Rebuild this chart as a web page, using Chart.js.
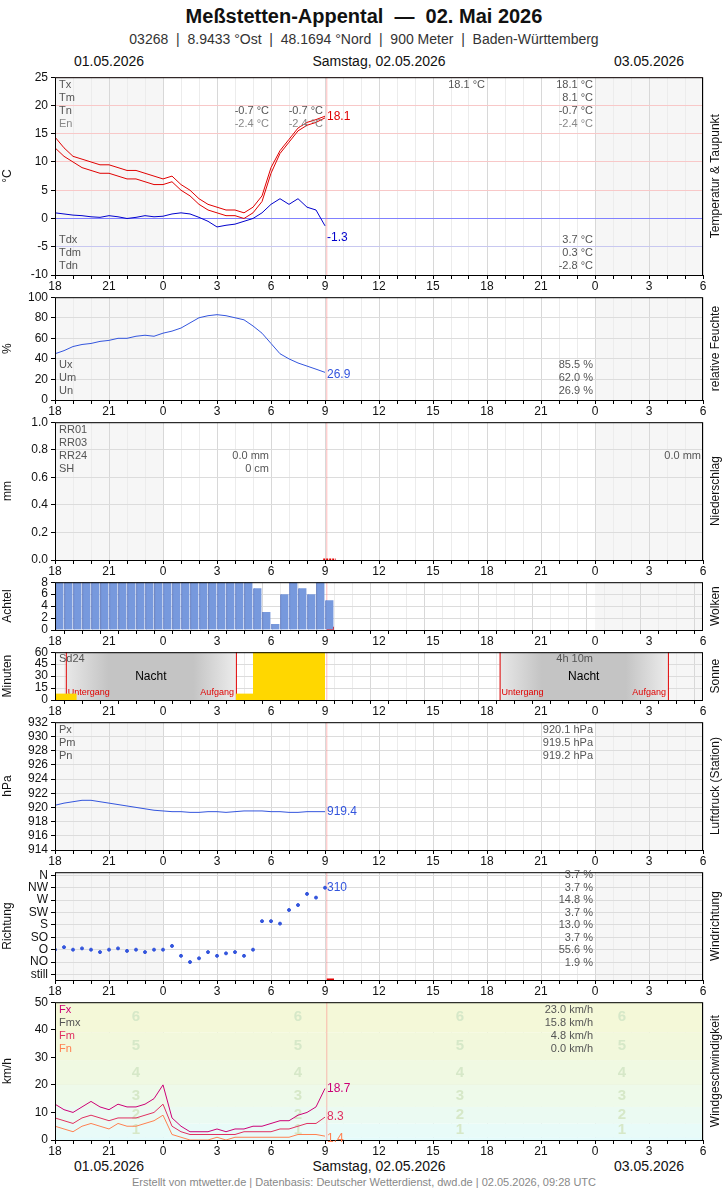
<!DOCTYPE html>
<html><head><meta charset="utf-8">
<script src="https://cdn.jsdelivr.net/npm/chart.js@4"></script>
<style>
body{margin:0;width:728px;height:1190px;background:#fff;font-family:"Liberation Sans",Arial,sans-serif;position:relative;overflow:hidden}
canvas{position:absolute;left:0}
.t{position:absolute;white-space:nowrap;color:#111}
</style></head><body>
<div class="t" style="left:0;width:728px;text-align:center;top:5px;font-size:20px;font-weight:bold">Meßstetten-Appental&nbsp; — &nbsp;02. Mai 2026</div>
<div class="t" style="left:0;width:728px;text-align:center;top:31px;font-size:14px;color:#333">03268&nbsp; | &nbsp;8.9433 °Ost&nbsp; | &nbsp;48.1694 °Nord&nbsp; | &nbsp;900 Meter&nbsp; | &nbsp;Baden-Württemberg</div>
<div class="t" style="left:74px;top:53px;font-size:14px">01.05.2026</div>
<div class="t" style="left:0;width:758px;text-align:center;top:53px;font-size:14px">Samstag, 02.05.2026</div>
<div class="t" style="left:614px;top:53px;font-size:14px">03.05.2026</div>
<div class="t" style="left:74px;top:1158px;font-size:14px">01.05.2026</div>
<div class="t" style="left:0;width:758px;text-align:center;top:1158px;font-size:14px">Samstag, 02.05.2026</div>
<div class="t" style="left:614px;top:1158px;font-size:14px">03.05.2026</div>
<div class="t" style="left:0;width:728px;text-align:center;top:1176px;font-size:11px;color:#888">Erstellt von mtwetter.de | Datenbasis: Deutscher Wetterdienst, dwd.de | 02.05.2026, 09:28 UTC</div>
<script>
const FONT='"Liberation Sans",Arial,sans-serif';
Chart.defaults.font.family=FONT;
// hours since 01.05. 18:00, 30-min steps
const hours = Array.from({length:31},(_, i)=>i*0.5);
const tempA = [14.4,12.5,11,10.5,10,9.5,9.5,9,8.5,8.5,8,7.5,7,7.5,6,5,3.5,2.5,2,1.5,1.5,1,2,4,9,12,14,16,17,17.5,18.1];
const tempB = [12.5,11,10,9,8.5,8,8,7.5,7,7,6.5,6,6,6.5,5,4,2.5,1.5,1,0.5,0.5,0,1,3,8,11.5,13.5,15.5,16.5,17,17.8];
const dew = [1,0.8,0.6,0.5,0.3,0.2,0.5,0.3,0,0.2,0.5,0.3,0.4,0.8,1,0.8,0.2,-0.5,-1.5,-1.2,-1,-0.5,0,1,2.5,3.5,2.5,3.5,2,1.5,-1.3];
const humidity = [45,48,52,54,55,57,58,60,60,62,63,62,65,67,70,75,80,82,83,82,80,78,72,65,55,45,40,36,33,30,26.9];
const clouds = [8,8,8,8,8,8,8,8,8,8,8,8,8,8,8,8,8,8,8,8,8,8,7,3,1,6,8,7,6,8,5];
const pressure = [920.3,920.6,920.8,921,921,920.8,920.6,920.4,920.2,920,919.8,919.6,919.5,919.4,919.4,919.3,919.3,919.4,919.4,919.3,919.4,919.5,919.5,919.5,919.4,919.4,919.3,919.3,919.4,919.4,919.4];
const windDir = [2,2.2,2,2.1,2,1.8,2,2.1,1.9,2,1.8,2,2,2.3,1.5,1,1.3,1.8,1.5,1.7,1.8,1.5,2,4.3,4.3,4.1,5.2,5.6,6.5,6.2,7];
const dirLabels = ['still','NO','O','SO','S','SW','W','NW','N'];
const fx = [13,11,10,12,14,12,11,13,12,12,13,15,20,8,5,3,3,3,4,3,4,4,5,5,6,7,7,9,10,12,18.7];
const fm = [8,7,6,8,9,8,7,8,8,8,9,10,13,5,3,2,2,2,2,2,2,3,3,3,3,4,4,5,6,6,8.3];
const fn = [5,4,3,5,6,5,4,6,5,5,6,7,9,2,1,0,0,0,1,0,1,1,1,1,1,1,1,2,2,2,1.4];
const sunBars = [[0,1.2,8],[10.05,11,8],[11,15,60]];
const nights = [[0.6,10.05],[24.7,34.05]];
const nowH = 15.1;

const pts = a => a.map((v,i)=>({x:hours[i],y:v}));
const W=728;
function panel(o){
  const c=document.createElement('canvas');
  const top=o.top-8, h=(o.bottom-o.top)+8+20;
  c.width=W;c.height=h;c.style.top=top+'px';c.style.width=W+'px';c.style.height=h+'px';
  document.body.appendChild(c);
  const overlay={id:'ov',
    beforeDatasetsDraw(ch){const g=ch.ctx,a=ch.chartArea,x=ch.scales.x,y=ch.scales.y;g.save();
      if(o.bg)o.bg(g,a,x,y);
      g.strokeStyle='rgba(255,120,120,0.5)';g.lineWidth=1;const nx=x.getPixelForValue(nowH);g.beginPath();g.moveTo(nx,a.top);g.lineTo(nx,a.bottom);g.stroke();
      g.restore();},
    beforeDraw(ch){const g=ch.ctx,a=ch.chartArea;g.save();
      g.fillStyle='#f6f6f6';g.fillRect(a.left,a.top,a.right-a.left,a.bottom-a.top);
      const x=ch.scales.x;g.fillStyle='#fff';const l=x.getPixelForValue(6),r=x.getPixelForValue(30);g.fillRect(l,a.top,r-l,a.bottom-a.top);
      g.restore();},
    afterDraw(ch){const g=ch.ctx,a=ch.chartArea,x=ch.scales.x,y=ch.scales.y;g.save();
      g.strokeStyle='#000';g.lineWidth=1;g.strokeRect(a.left+0.5,a.top+0.5,a.right-a.left-1,a.bottom-a.top);
      g.font='11px '+FONT;
      (o.texts||[]).forEach(t=>{g.fillStyle=t.c||'#555';g.textAlign=t.a||'left';g.textBaseline='middle';g.fillText(t.t,t.x,t.y-top);});
      if(o.ends)o.ends.forEach(e=>{g.fillStyle=e.c;g.textAlign='left';g.font='12px '+FONT;g.textBaseline='middle';g.fillText(e.t,x.getPixelForValue(e.x)+2,y.getPixelForValue(e.y)+(e.dy||0));});
      g.translate(716,(a.top+a.bottom)/2);g.rotate(-Math.PI/2);g.fillStyle='#111';g.textAlign='center';g.textBaseline='middle';g.font='12px '+FONT;g.fillText(o.right,0,0);
      g.restore();}
  };
  const yopts={min:o.min,max:o.max,afterFit:s=>{s.width=55},
    ticks:Object.assign({color:'#111',font:{size:12},padding:3,autoSkip:false},o.ticks||{}),
    grid:{color:o.gridColor||'#dcdcdc',tickLength:4,tickColor:'#000'},border:{display:false},
    title:{display:true,text:o.ytitle,color:'#111',font:{size:12},padding:0}};
  if(o.yTicks)yopts.afterBuildTicks=s=>{s.ticks=o.yTicks.map(v=>({value:v}))};
  new Chart(c,{type:o.type||'line',data:{datasets:o.datasets},
    options:{responsive:false,animation:false,devicePixelRatio:1,
      layout:{padding:{top:8,right:25,left:0,bottom:0}},
      plugins:{legend:{display:false},tooltip:{enabled:false}},
      elements:{point:{radius:0},line:{borderWidth:1,tension:0}},
      scales:{
        x:{type:'linear',min:0,max:36,afterFit:s=>{s.height=20},
          ticks:{stepSize:1,autoSkip:false,maxRotation:0,color:'#111',font:{size:12},padding:0,callback:v=>v%3===0?String((18+v)%24):''},
          grid:{color:ctx=>ctx.tick&&ctx.tick.value%3===0?'#d8d8d8':'#ececec',tickLength:4,tickColor:'#000'},border:{display:false},offset:false},
        y:yopts
      }},plugins:[overlay]});
}
const lbl=(x,y,t,c,a)=>({x,y,t,c,a});
// Temperature
panel({top:75,bottom:275,min:-10,max:25,ticks:{stepSize:5},ytitle:'°C',right:'Temperatur & Taupunkt',
  gridColor:ctx=>ctx.tick&&ctx.tick.value>0?'#f8c8c8':(ctx.tick&&ctx.tick.value<0?'#c8c8f0':'#8080ff'),
  datasets:[{data:pts(tempA),borderColor:'#e00000'},{data:pts(tempB),borderColor:'#e00000'},{data:pts(dew),borderColor:'#0000cc'}],
  ends:[{x:15,y:18.1,t:'18.1',c:'#e00000'},{x:15,y:-1.3,t:'-1.3',c:'#0000cc',dy:12}],
  texts:[lbl(59,85,'Tx'),lbl(59,98,'Tm'),lbl(59,111,'Tn'),lbl(59,124,'En','#888'),
    lbl(485,85,'18.1 °C','#555','right'),lbl(593,85,'18.1 °C','#555','right'),lbl(593,98,'8.1 °C','#555','right'),lbl(593,111,'-0.7 °C','#555','right'),lbl(593,124,'-2.4 °C','#888','right'),
    lbl(269,111,'-0.7 °C','#555','right'),lbl(323,111,'-0.7 °C','#555','right'),lbl(269,124,'-2.4 °C','#888','right'),lbl(323,124,'-2.4 °C','#888','right'),
    lbl(59,240,'Tdx'),lbl(59,253,'Tdm'),lbl(59,266,'Tdn'),lbl(593,240,'3.7 °C','#555','right'),lbl(593,253,'0.3 °C','#555','right'),lbl(593,266,'-2.8 °C','#555','right')]});
// Humidity
panel({top:295,bottom:400,min:0,max:100,ticks:{stepSize:20},ytitle:'%',right:'relative Feuchte',
  datasets:[{data:pts(humidity),borderColor:'#3355dd'}],ends:[{x:15,y:26.9,t:'26.9',c:'#3355dd',dy:2}],
  texts:[lbl(59,365,'Ux'),lbl(59,378,'Um'),lbl(59,391,'Un'),lbl(593,365,'85.5 %','#555','right'),lbl(593,378,'62.0 %','#555','right'),lbl(593,391,'26.9 %','#555','right')]});
// Precip
panel({top:420,bottom:560,min:0,max:1,ticks:{stepSize:0.2,callback:v=>v.toFixed(1)},ytitle:'mm',right:'Niederschlag',
  datasets:[{data:[{x:14.9,y:0},{x:15.6,y:0}],borderColor:'#e00000',borderWidth:3,borderDash:[2,1]}],
  texts:[lbl(59,430,'RR01'),lbl(59,443,'RR03'),lbl(59,456,'RR24'),lbl(59,469,'SH'),lbl(269,456,'0.0 mm','#555','right'),lbl(269,469,'0 cm','#555','right'),lbl(701,456,'0.0 mm','#555','right')]});
// Clouds
panel({type:'bar',top:580,bottom:630,min:0,max:8,ticks:{stepSize:2},ytitle:'Achtel',right:'Wolken',
  datasets:[{type:'bar',data:pts(clouds).map(p=>({x:p.x+0.25,y:p.y})),backgroundColor:'#7799dd',borderColor:'#4466bb',borderWidth:{left:1,right:0,top:0,bottom:0},barPercentage:1,categoryPercentage:1,barThickness:8},
    {type:'line',data:[{x:15.1,y:0.3},{x:15.5,y:0.3}],borderColor:'#e00000',borderWidth:3}]});
// Sun
panel({type:'bar',top:650,bottom:700,min:0,max:60,ticks:{stepSize:15},ytitle:'Minuten',right:'Sonne',
  bg:(g,a,x)=>{nights.forEach(n=>{const l=x.getPixelForValue(n[0]),r=x.getPixelForValue(n[1]);
      const gr=g.createLinearGradient(l,0,r,0);gr.addColorStop(0,'#e8e8e8');gr.addColorStop(0.25,'#c4c4c4');gr.addColorStop(0.75,'#c4c4c4');gr.addColorStop(1,'#ececec');
      g.fillStyle=gr;g.fillRect(l,a.top,r-l,a.bottom-a.top);g.strokeStyle='#e00000';g.beginPath();g.moveTo(l+0.5,a.top);g.lineTo(l+0.5,a.bottom);g.moveTo(r+0.5,a.top);g.lineTo(r+0.5,a.bottom);g.stroke();
      g.fillStyle='#000';g.font='12px '+FONT;g.textAlign='center';g.textBaseline='middle';g.fillText('Nacht',(l+r)/2,a.top+24);
      g.fillStyle='#e00000';g.font='9px '+FONT;g.textAlign='left';g.fillText('Untergang',l+2,a.bottom-7);g.textAlign='right';g.fillText('Aufgang',r-2,a.bottom-7);});
    g.fillStyle='#ffd700';sunBars.forEach(b=>{const l=x.getPixelForValue(b[0]),r=x.getPixelForValue(b[1]);const yy=a.bottom-(a.bottom-a.top)*b[2]/60;g.fillRect(l,yy,r-l,a.bottom-yy);});},
  datasets:[],texts:[lbl(59,659,'Sd24'),lbl(593,659,'4h 10m','#555','right')]});
// Pressure
panel({top:720,bottom:850,min:914,max:932,ticks:{stepSize:2},ytitle:'hPa',right:'Luftdruck (Station)',
  datasets:[{data:pts(pressure),borderColor:'#3355dd'}],ends:[{x:15,y:919.4,t:'919.4',c:'#3355dd'}],
  texts:[lbl(59,730,'Px'),lbl(59,743,'Pm'),lbl(59,756,'Pn'),lbl(593,730,'920.1 hPa','#555','right'),lbl(593,743,'919.5 hPa','#555','right'),lbl(593,756,'919.2 hPa','#555','right')]});
// Wind direction
panel({top:870,bottom:980,min:-0.45,max:8.25,yTicks:[0,1,2,3,4,5,6,7,8],ticks:{callback:v=>dirLabels[v]||''},ytitle:'Richtung',right:'Windrichtung',
  datasets:[{data:pts(windDir),showLine:false,pointRadius:1.5,backgroundColor:'#3355dd',borderColor:'#3355dd'},
    {data:[{x:15.1,y:-0.45},{x:15.5,y:-0.45}],borderColor:'#e00000',borderWidth:3}],
  ends:[{x:15,y:7,t:'310',c:'#3355dd'}],
  texts:['3.7 %','3.7 %','14.8 %','3.7 %','13.0 %','3.7 %','55.6 %','1.9 %'].map((t,i)=>lbl(593,875+i*12.5,t,'#555','right'))});
// Wind speed
const bft=[[0,1,'#e4fbfb'],[1,6,'#e8fbf8'],[6,12,'#ebfaf2'],[12,20,'#eefaea'],[20,29,'#f0f9e2'],[29,39,'#f2f8dc'],[39,50,'#f4f8d8']];
panel({top:1000,bottom:1140,min:0,max:50,ticks:{stepSize:10},ytitle:'km/h',right:'Windgeschwindigkeit',
  bg:(g,a,x,y)=>{bft.forEach(b=>{const t=y.getPixelForValue(b[1]),bo=y.getPixelForValue(b[0]);g.fillStyle=b[2];g.fillRect(a.left,t,a.right-a.left,bo-t);});
    g.fillStyle='#d6e8c8';g.font='bold 15px '+FONT;g.textAlign='center';g.textBaseline='middle';
    [4.5,13.5,22.5,31.5].forEach(h=>{for(let i=1;i<=6;i++){const m=(bft[i][0]+bft[i][1])/2;g.fillText(String(i),x.getPixelForValue(h),y.getPixelForValue(m));}});},
  datasets:[{data:pts(fx),borderColor:'#cc0077'},{data:pts(fm),borderColor:'#e03060'},{data:pts(fn),borderColor:'#ff8050'}],
  ends:[{x:15,y:18.7,t:'18.7',c:'#cc0077'},{x:15,y:8.3,t:'8.3',c:'#e03060'},{x:15,y:1.4,t:'1.4',c:'#ff8050',dy:3}],
  texts:[lbl(59,1010,'Fx','#cc0077'),lbl(59,1023,'Fmx','#555'),lbl(59,1036,'Fm','#e03060'),lbl(59,1049,'Fn','#ff8050'),
    lbl(593,1010,'23.0 km/h','#555','right'),lbl(593,1023,'15.8 km/h','#555','right'),lbl(593,1036,'4.8 km/h','#555','right'),lbl(593,1049,'0.0 km/h','#555','right')]});
</script></body></html>
